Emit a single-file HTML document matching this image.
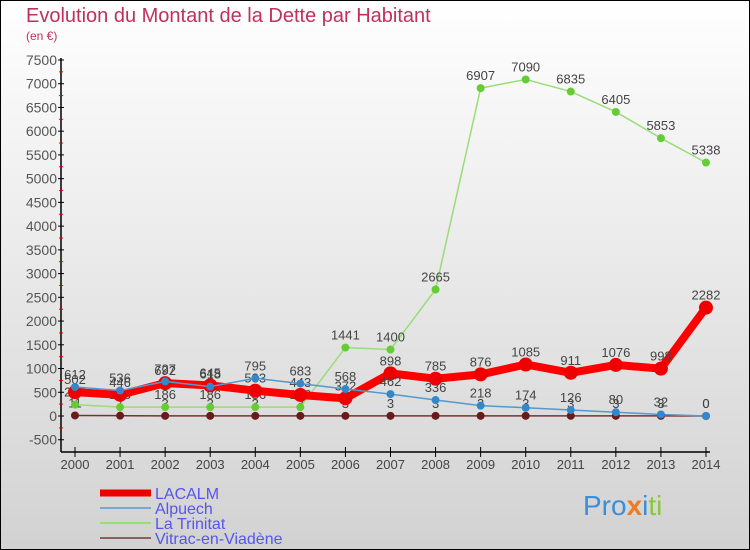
<!DOCTYPE html>
<html><head><meta charset="utf-8"><style>
body{margin:0}
#c{position:relative;width:750px;height:550px;box-sizing:border-box;border:1px solid #000;background:linear-gradient(#fff,#d2d2d2);font-family:"Liberation Sans",sans-serif;overflow:hidden}
</style></head><body>
<div id="c">
<svg id="s" width="750" height="550" style="position:absolute;left:-1px;top:-1px">
<text x="26" y="22" font-size="20" fill="#c0305a">Evolution du Montant de la Dette par Habitant</text>
<text x="26" y="40" font-size="12" fill="#c0305a">(en €)</text>
<g id="ax"></g><g id="ser"></g>
<text x="583" y="515" font-size="28"><tspan fill="#3a8fd8">Pro</tspan><tspan fill="#f07a20" font-weight="bold">x</tspan><tspan fill="#3a8fd8">i</tspan><tspan fill="#8cc63f">ti</tspan></text>
</svg>
</div>
<script>
const years=[2000,2001,2002,2003,2004,2005,2006,2007,2008,2009,2010,2011,2012,2013,2014];
const lacalm=[502,446,692,645,533,443,372,898,785,876,1085,911,1076,998,2282];
const alpuech=[612,536,727,618,795,683,568,462,336,218,174,126,80,32,0];
const trinitat=[239,186,186,186,186,186,1441,1400,2665,6907,7090,6835,6405,5853,5338];
const vitrac=[11,7,3,3,3,3,3,3,3,3,3,3,3,3,0];
const yTicks=[-500,0,500,1000,1500,2000,2500,3000,3500,4000,4500,5000,5500,6000,6500,7000,7500];
const NS="http://www.w3.org/2000/svg";
const X=i=>75+i*45.07, Y=v=>416-v*0.04747;
function mk(t,a,p){const e=document.createElementNS(NS,t);for(const k in a)e.setAttribute(k,a[k]);p.appendChild(e);return e;}
const ax=document.getElementById('ax'),ser=document.getElementById('ser');
let l=mk('line',{x1:61,y1:58,x2:61,y2:452,stroke:'#000','stroke-width':1.5},ax);


l=mk('line',{x1:61,y1:452,x2:710,y2:452,stroke:'#000','stroke-width':1.5},ax);


yTicks.forEach(v=>{const y=Y(v);
 mk('line',{x1:58,x2:64,y1:y,y2:y,stroke:'#000'},ax);
 if(v<7500)mk('line',{x1:59,x2:63,y1:Y(v+250),y2:Y(v+250),stroke:'#e00'},ax);
 const t=mk('text',{x:57,y:y+5,'font-size':14,fill:'#555','text-anchor':'end'},ax);t.textContent=v;
 
 });
years.forEach((yr,i)=>{mk('line',{x1:X(i),x2:X(i),y1:447,y2:457,stroke:'#000'},ax);
 const t=mk('text',{x:X(i),y:469,'font-size':13,fill:'#444','text-anchor':'middle'},ax);t.textContent=yr;
 
 });
function series(d,col,w,r,dot,name){
 const p=mk('polyline',{points:d.map((v,i)=>X(i)+','+Y(v)).join(' '),fill:'none',stroke:col,'stroke-width':w,'stroke-linejoin':'round'},ser);
 
 
 d.forEach((v,i)=>{const c=mk('circle',{cx:X(i),cy:Y(v),r:r,fill:dot},ser);
  
  
  const t=mk('text',{x:X(i),y:Y(v)-8,'font-size':13,fill:'#444','text-anchor':'middle'},ser);t.textContent=v;
  
  });
}
series(vitrac,'#7a3030',1.5,4,'#6a1a1a','vitrac');
series(trinitat,'#99dd77',1.5,4,'#66cc33','trinitat');
series(lacalm,'#ff0000',8,7,'#ee0000','lacalm');
series(alpuech,'#5599cc',1.5,4,'#3388cc','alpuech');
const leg=[['LACALM','#ee0000',7],['Alpuech','#7aa8cc',2],['La Trinitat','#99dd77',2],['Vitrac-en-Viadène','#8a6060',2]];
leg.forEach((e,i)=>{const y=493+i*15;
 mk('line',{x1:100,x2:151,y1:y,y2:y,stroke:e[1],'stroke-width':e[2]},ax);
 const t=mk('text',{x:155,y:y+6,'font-size':16,fill:'#5555ee'},ax);t.textContent=e[0];
 
 });
</script>
</body></html>
